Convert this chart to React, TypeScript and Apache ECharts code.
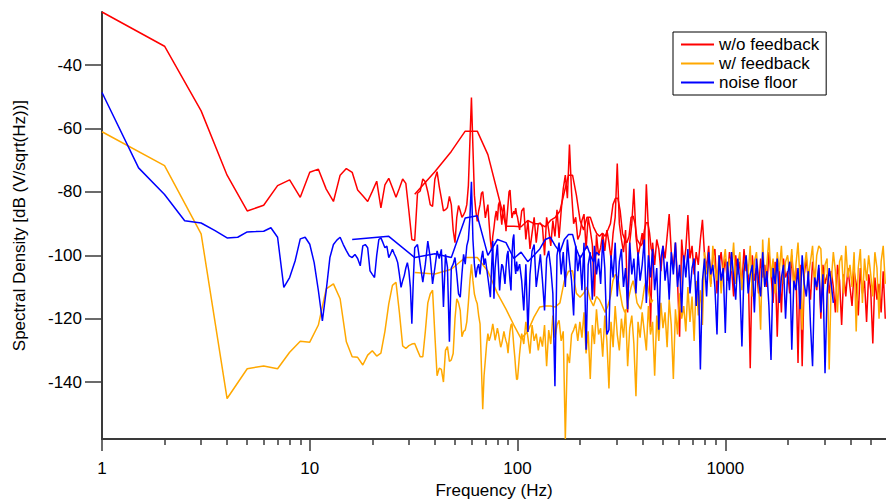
import React, { useEffect, useRef } from "react";
import * as echarts from "echarts";

// ---------- data (dB V/sqrt(Hz)) ----------
// Low band: 1 Hz bins starting at 1 Hz
const RED_A = [-23.2, -34, -54.4, -74.7, -86, -84.2, -78, -76.2, -81.7, -73.8, -72.8, -79.1, -83, -74.7, -72.6, -73.8, -79.4, -81.2, -83, -79.8, -76.6, -85, -77.8, -75.7, -78.7, -81.7, -78.8, -75.9, -77.3, -86, -95, -95.3];
const ORANGE_A = [-61, -71.7, -93.2, -145.2, -135.8, -134.9, -135.8, -130.6, -127.1, -127.4, -122, -110.6, -109, -113.7, -127.3, -132, -132.2, -134.6, -131.5, -130.1, -131.8, -130.9, -124, -115.3, -109.5, -108.5, -118, -128.6, -129.4, -128.5, -128, -127.8];
// noise floor low band: 0.5 Hz bins starting at 1 Hz
const BLUE_A = [-48.6, -72.4, -80.8, -89.1, -89.8, -92.2, -94.5, -94.3, -92.6, -92.5, -92.4, -91.3, -94.3, -110.1, -107, -101.8, -94.8, -94.3, -96.5, -102.3, -111.1, -120.7, -111.1, -100.7, -96.6, -95.2, -94.3, -96.6, -98.5, -100.2, -100.7, -99.7, -101, -103.3, -97, -96.6, -97.6, -104.9, -106, -107, -100, -95, -94.5, -96, -97.6, -97.1, -100.7, -99.5, -98.1, -99.5, -100.7, -102.3, -106, -110.1, -108, -106.4, -104, -102.3, -105, -110.1, -121.6, -108];

// Fine band: 1 Hz bins (red/orange from 33 Hz, blue from 32 Hz)
const RED_FINE = [-80.4, -79.7, -75.9, -76.8, -80, -84, -84.6, -76, -73.6, -78.3, -82, -86, -85.6, -84.9, -81.4, -84, -92, -96, -88, -84.3, -86, -88, -87.2, -86.1, -84, -78, -64, -50.2, -66, -81, -86, -89.3, -86, -84, -80.5, -79.9, -84, -88.2, -86, -84, -90, -95, -98.6, -94, -91.3, -88, -86, -89, -84, -83, -87, -90.3, -86, -84, -88, -92.4, -88, -84, -80, -79.4, -84, -88.2, -87, -86.1, -87, -85.1, -87];
const ORANGE_FINE = [-130, -132, -132, -124, -115, -112.2, -111, -125, -138, -135.6, -136, -140, -130, -128.8, -133.5, -133, -131, -120, -113.7, -115, -117.4, -125.7, -124, -123.6, -121, -115, -108, -102.8, -108, -112.2, -114, -115.3, -119, -121.6, -135, -148.6, -138, -133, -128, -124.7, -127, -125.7, -124, -121.6, -124, -126.8, -125, -123, -124.7, -127, -129, -127.8, -126, -124, -125.7, -127, -128, -130.9, -127, -124, -122, -121.6, -125, -128.8, -132, -136, -139.2];
const BLUE_FINE = [-97.6, -96.6, -102.8, -108.5, -102.8, -95.5, -100.7, -109, -104, -98.6, -101, -98.1, -116.3, -99.7, -103.8, -127.3, -104, -102.8, -100.7, -106, -112.2, -113.2, -105.9, -99.7, -102.8, -97, -95, -88, -76.8, -95, -102.8, -107, -104, -102.8, -106, -101, -98.6, -103, -101, -104, -107, -110, -113.2, -104, -95.5, -113.7, -104, -100, -96.6, -104, -111.1, -106, -102.8, -103.5, -106, -109, -104, -100, -98.6, -104, -108, -111.1, -100, -95, -93.4, -103, -105.9, -102];

// High band: 100 points per decade starting at 100 Hz
const RED_HI = [
  -88, -92, -86, -85, -95, -89, -98, -93, -88, -96,
  -90, -89.8, -91, -100, -88, -92, -97, -89, -94, -85.6,
  -94.5, -86, -79, -74.7, -82, -65, -80, -90, -88, -95,
  -93.4, -89, -87, -98, -88, -92, -96.6, -113, -93.4, -100,
  -97.6, -93, -98.6, -92, -96, -101, -93, -88, -71, -90,
  -95, -99, -92, -118, -96, -90, -79, -94, -100, -97,
  -93, -99, -77.6, -92, -122.6, -96, -103, -95, -98, -105,
  -97, -101, -94, -87, -99, -104, -96, -108, -125.7, -95,
  -103, -98, -87.3, -101, -97, -106, -99, -103, -95, -88.8,
  -100, -104, -97, -109, -101, -98, -112, -103, -99, -106,
  -101, -108, -99, -104, -113, -100, -106, -102, -110, -98,
  -105, -103, -135.6, -100, -108, -104, -112, -101, -107, -103,
  -110, -99, -106, -115, -102, -125.7, -104, -118, -101, -107,
  -105, -112, -100, -109, -104, -134, -103, -135, -106, -101,
  -108, -114, -102, -107, -111, -104, -120, -103, -109, -106,
  -112, -105, -110, -118, -103, -108, -122, -106, -113, -104,
  -110, -116, -105, -109, -119, -104, -112, -108, -121, -106,
  -111, -127.8, -107, -114, -109, -118, -105, -120,
];
const ORANGE_HI = [
  -139, -131, -124.7, -128, -121, -126, -131, -122, -127, -124.7,
  -130, -125.7, -128.8, -122, -135, -123.6, -128, -119, -126, -122,
  -120.5, -127, -124, -158, -131, -134, -125, -123.6, -121.6, -127,
  -121, -126, -118, -131, -124, -139, -122, -128, -117, -125,
  -123, -132, -119, -127, -142, -121, -129, -116, -125, -130,
  -120, -126, -117, -135, -123, -119, -128, -144.5, -121, -126,
  -118, -124, -130, -116, -125, -121, -138, -119, -127, -115,
  -123, -118, -129, -114, -122, -139, -117, -125, -112, -120,
  -116, -124, -110, -121, -113, -127, -108, -119, -111, -122,
  -99, -106, -102, -110, -97, -104, -108, -100, -112, -103,
  -98, -107, -101, -105, -96, -109, -103, -99, -111, -104,
  -100, -106, -97, -113, -102, -99, -108, -123.5, -95, -110,
  -103, -94.5, -107, -101, -112, -99, -105, -97, -109, -102,
  -100, -106, -98, -111, -103, -96, -108, -123.5, -104, -99,
  -107, -102, -97, -110, -100, -97, -98, -113, -103, -101,
  -136, -108, -99, -105, -118, -102, -100, -112, -97, -107,
  -103, -110, -99, -124, -104, -98, -115, -101, -108, -100,
  -106, -113, -99, -104, -120, -102, -97, -109,
];
const BLUE_HI = [
  -105, -102.8, -108, -117.4, -102.8, -124.2, -106, -98.6, -96.6, -110,
  -104.9, -99.7, -108, -117.4, -101, -98.6, -104, -112, -141.3, -100,
  -96, -106, -99, -110, -95, -102, -108, -119, -97, -105,
  -100, -111, -96, -129.8, -103, -99, -114, -97, -106, -101,
  -109, -95, -104, -125, -123.5, -100, -107, -96, -113, -102,
  -98, -110, -104, -117, -96, -106, -101, -112, -99, -108,
  -103, -95, -115, -100, -107, -98, -111, -104, -123.5, -101,
  -97, -108, -102, -114, -99, -106, -96, -110, -103, -118,
  -100, -107, -98, -112, -104, -101, -116, -105, -136, -108,
  -101, -113, -99, -106, -103, -110, -125, -100, -108, -104,
  -124.5, -102, -111, -99, -107, -114, -101, -109, -128.8, -105,
  -100, -112, -106, -103, -118, -101, -108, -113, -99, -110,
  -105, -116, -133, -104, -109, -101, -115, -107, -103, -120,
  -106, -102, -129.8, -108, -111, -104, -117, -100, -109, -113,
  -105, -122, -135, -107, -110, -103, -118, -106, -137.2, -112,
  -104, -109, -115,
];

// Coarse band: 8 Hz bins (red/orange from 32 Hz, blue from 16 Hz)
const RED_COARSE = [-80.7, -73.6, -67.2, -60.8, -60.8, -68.2, -80, -90.8, -90.8, -91, -89, -90, -90, -91, -89, -88, -86, -80, -74.7, -74.7, -81, -89, -92, -88, -88, -91, -93, -94, -93, -94, -92, -90, -84, -82, -82, -86, -93, -95, -96, -94, -88, -87.6, -90, -95, -96, -97, -96, -92, -89.7, -89.7, -93, -98, -99];
const ORANGE_COARSE = [-105.4, -105.9, -104.4, -100.7, -100.7, -105, -112, -117, -122, -126.3, -124, -119.5, -116.3, -116, -116, -116.3, -115, -108, -105, -104.9, -112, -113.2, -112, -110, -114, -116, -113, -114, -116, -118, -116, -113, -108, -106, -107, -112, -116, -118, -117, -113, -110, -108, -111, -115, -116, -117, -114, -110, -108, -110, -113, -115, -114];
const BLUE_COARSE = [-95, -94, -100.7, -99.5, -100.7, -88.2, -87.5, -100, -95, -96, -101, -99, -102, -100, -98, -95, -94.3, -97, -99, -95, -93.4, -93.4, -98, -101, -99, -97, -100, -102, -99, -100];

const SERIES_NAMES = ["w/o feedback", "w/ feedback", "noise floor"];
const COLORS = ["#FF0000", "#FFA800", "#0000FF"];
const Y_TICKS = [-140, -120, -100, -80, -60, -40];
const X_MAJOR = [1, 10, 100, 1000];
const X_MINOR = [2, 3, 4, 5, 6, 7, 8, 9, 20, 30, 40, 50, 60, 70, 80, 90, 200, 300, 400, 500, 600, 700, 800, 900, 2000, 3000, 4000, 5000];
const X_MIN = 1;
const X_MAX = 5936;
const Y_MIN = -158;
const Y_MAX = -23.2;

// analyzer bin grids (frequency positions of the values above)
const linBins = (start: number, step: number, vals: number[]) =>
  vals.map((v, i) => [start + step * i, v]);
const logBins = (start: number, perDecade: number, vals: number[]) =>
  vals.map((v, i) => [start * Math.pow(10, i / perDecade), v]);

const FONT = '"Liberation Sans", Arial, sans-serif';
const AXIS = "#3a3a3a";

export default function App() {
  const ref = useRef<HTMLDivElement>(null);
  useEffect(() => {
    document.body.style.margin = "0";
    const chart = echarts.init(ref.current!, null, { renderer: "svg" });

    const main = [
      [...linBins(1, 1, RED_A), ...linBins(33, 1, RED_FINE), ...logBins(100, 100, RED_HI)],
      [...linBins(1, 1, ORANGE_A), ...linBins(33, 1, ORANGE_FINE), ...logBins(100, 100, ORANGE_HI)],
      [...linBins(1, 0.5, BLUE_A), ...linBins(32, 1, BLUE_FINE), ...logBins(100, 100, BLUE_HI)],
    ];
    const coarse = [
      linBins(32, 8, RED_COARSE),
      linBins(32, 8, ORANGE_COARSE),
      linBins(16, 8, BLUE_COARSE),
    ];

    const series: any[] = [];
    for (let k = 0; k < 3; k++) {
      for (const data of [main[k], coarse[k]]) {
        series.push({
          type: "line",
          name: SERIES_NAMES[k],
          xAxisIndex: 0,
          yAxisIndex: 0,
          data,
          symbol: "none",
          showSymbol: false,
          silent: true,
          clip: true,
          lineStyle: { color: COLORS[k], width: 1.5 },
          itemStyle: { color: COLORS[k] },
          emphasis: { disabled: true },
        });
      }
    }

    const labelStyle = { fontSize: 17, fontFamily: FONT, color: "#000" };

    chart.setOption({
      animation: false,
      backgroundColor: "#fff",
      grid: { left: 102, right: 0, top: 12, bottom: 61, containLabel: false },
      legend: {
        data: SERIES_NAMES,
        orient: "vertical",
        left: 673,
        top: 32,
        icon: "rect",
        itemWidth: 33,
        itemHeight: 2,
        itemGap: 2,
        padding: [4, 7, 4, 8],
        borderColor: "#000",
        borderWidth: 1,
        backgroundColor: "#fff",
        selectedMode: false,
        textStyle: { ...labelStyle, lineHeight: 17 },
      },
      xAxis: [
        {
          type: "log",
          logBase: 10,
          min: X_MIN,
          max: X_MAX,
          position: "bottom",
          axisLine: { show: true, lineStyle: { color: AXIS, width: 2 } },
          axisTick: { show: true, length: 6, customValues: X_MINOR, lineStyle: { color: AXIS, width: 1.5 } },
          axisLabel: { show: false },
          splitLine: { show: false },
          minorTick: { show: false },
        },
        {
          type: "log",
          logBase: 10,
          min: X_MIN,
          max: X_MAX,
          position: "bottom",
          axisLine: { show: false },
          axisTick: { show: true, length: 12, customValues: X_MAJOR, lineStyle: { color: AXIS, width: 1.5 } },
          axisLabel: {
            ...labelStyle,
            margin: 21,
            customValues: X_MAJOR,
            formatter: (v: number) => String(Math.round(v)),
          },
          splitLine: { show: false },
          name: "Frequency (Hz)",
          nameLocation: "middle",
          nameGap: 42,
          nameTextStyle: labelStyle,
        },
      ],
      yAxis: {
        type: "value",
        min: Y_MIN,
        max: Y_MAX,
        axisLine: { show: true, lineStyle: { color: AXIS, width: 2 } },
        axisTick: { show: true, length: 17, customValues: Y_TICKS, lineStyle: { color: AXIS, width: 1.5 } },
        axisLabel: { ...labelStyle, margin: 20, customValues: Y_TICKS },
        splitLine: { show: false },
        name: "Spectral Density [dB (V/sqrt(Hz))]",
        nameLocation: "middle",
        nameRotate: 90,
        nameGap: 74,
        nameTextStyle: labelStyle,
      },
      series,
    });

    return () => chart.dispose();
  }, []);
  return <div ref={ref} style={{ width: 886, height: 504 }} />;
}
